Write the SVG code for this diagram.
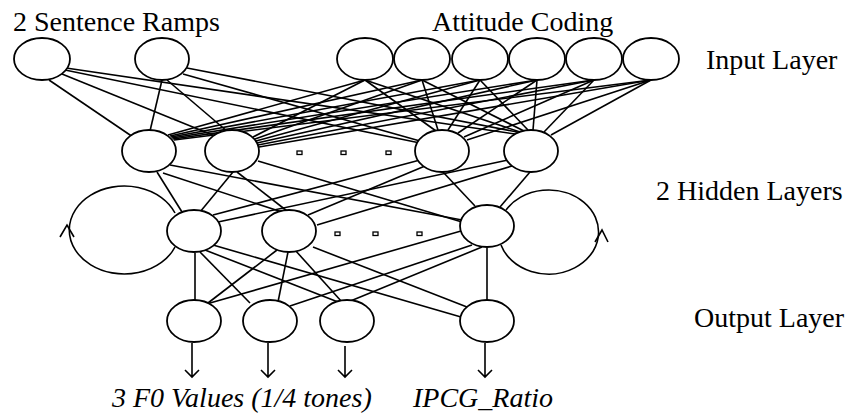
<svg xmlns="http://www.w3.org/2000/svg" width="848" height="417" viewBox="0 0 848 417">
<defs>
<style>
.n{fill:#fff;stroke:#000;stroke-width:1.8}
.c line,.c path{stroke:#000;stroke-width:1.6;fill:none}
.t{font-family:"Liberation Serif","Times New Roman",serif;font-size:28px;fill:#000}
.i{font-style:italic}
.d{fill:#fff;stroke:#000;stroke-width:1.3}
</style>
</defs>
<rect width="848" height="417" fill="#fff"/>
<g id="connectors" class="c">
<line x1="49" y1="80" x2="133" y2="137"/>
<line x1="62" y1="74" x2="215" y2="136"/>
<line x1="65" y1="70" x2="420" y2="143"/>
<line x1="66" y1="68" x2="515" y2="134"/>
<line x1="162" y1="80" x2="150" y2="131"/>
<line x1="167" y1="80" x2="228" y2="132"/>
<line x1="183" y1="74" x2="420" y2="141"/>
<line x1="187" y1="68" x2="517" y2="132"/>
<line x1="365" y1="80" x2="168" y2="135"/>
<line x1="365" y1="80" x2="253" y2="137"/>
<line x1="365" y1="80" x2="436" y2="131"/>
<line x1="365" y1="80" x2="520" y2="132"/>
<line x1="422" y1="80" x2="170" y2="136"/>
<line x1="422" y1="80" x2="255" y2="139"/>
<line x1="422" y1="80" x2="438" y2="130"/>
<line x1="422" y1="80" x2="524" y2="131"/>
<line x1="480" y1="80" x2="171" y2="137"/>
<line x1="480" y1="80" x2="256" y2="141"/>
<line x1="480" y1="80" x2="448" y2="130"/>
<line x1="480" y1="80" x2="528" y2="130"/>
<line x1="537" y1="80" x2="172" y2="138"/>
<line x1="537" y1="80" x2="257" y2="143"/>
<line x1="537" y1="80" x2="458" y2="133"/>
<line x1="537" y1="80" x2="533" y2="130"/>
<line x1="594" y1="80" x2="173" y2="139"/>
<line x1="594" y1="80" x2="258" y2="145"/>
<line x1="594" y1="80" x2="464" y2="137"/>
<line x1="594" y1="80" x2="544" y2="132"/>
<line x1="651" y1="80" x2="174" y2="140"/>
<line x1="651" y1="80" x2="259" y2="147"/>
<line x1="651" y1="80" x2="467" y2="140"/>
<line x1="651" y1="80" x2="551" y2="135"/>
<line x1="157" y1="172" x2="182" y2="212"/>
<line x1="163" y1="173" x2="282" y2="212"/>
<line x1="170" y1="165" x2="462" y2="220"/>
<line x1="233" y1="172" x2="200" y2="212"/>
<line x1="237" y1="172" x2="287" y2="211"/>
<line x1="258" y1="161" x2="462" y2="222"/>
<line x1="420" y1="160" x2="213" y2="215"/>
<line x1="425" y1="166" x2="308" y2="215"/>
<line x1="443" y1="172" x2="475" y2="206"/>
<line x1="508" y1="160" x2="218" y2="222"/>
<line x1="512" y1="166" x2="317" y2="225"/>
<line x1="530" y1="172" x2="500" y2="207"/>
<line x1="195" y1="253" x2="195" y2="300"/>
<line x1="200" y1="252" x2="250" y2="303"/>
<line x1="205" y1="250" x2="338" y2="302"/>
<line x1="213" y1="245" x2="461" y2="317"/>
<line x1="277" y1="250" x2="208" y2="303"/>
<line x1="288" y1="252" x2="278" y2="302"/>
<line x1="295" y1="250" x2="342" y2="302"/>
<line x1="313" y1="247" x2="467" y2="307"/>
<line x1="461" y1="231" x2="210" y2="303"/>
<line x1="472" y1="245" x2="290" y2="306"/>
<line x1="482" y1="247" x2="348" y2="302"/>
<line x1="487" y1="248" x2="487" y2="300"/>
<path d="M175,213 A55,44 0 1 0 175,247"/>
<path d="M60,237 L67,225 L74,237"/>
<path d="M506,210 A50,42 0 1 1 501,245"/>
<path d="M595,242 L602,230 L608,242"/>
<path d="M192,343 V377 M185,370 L192,377 L199,370"/>
<path d="M268,343 V377 M261,370 L268,377 L275,370"/>
<path d="M345,346 V377 M338,370 L345,377 L352,370"/>
<path d="M485,343 V377 M478,370 L485,377 L492,370"/>
</g>
<g id="input-layer">
<ellipse id="in-ramp1" class="n" cx="42" cy="59" rx="28" ry="21"/>
<ellipse id="in-ramp2" class="n" cx="162" cy="59" rx="27" ry="21"/>
<ellipse id="in-att1" class="n" cx="365" cy="59" rx="28" ry="21"/>
<ellipse id="in-att2" class="n" cx="422" cy="59" rx="28" ry="21"/>
<ellipse id="in-att3" class="n" cx="480" cy="59" rx="28" ry="21"/>
<ellipse id="in-att4" class="n" cx="537" cy="59" rx="28" ry="21"/>
<ellipse id="in-att5" class="n" cx="594" cy="59" rx="28" ry="21"/>
<ellipse id="in-att6" class="n" cx="651" cy="59" rx="28" ry="21"/>
</g>
<g id="hidden-layer-1">
<ellipse id="h1-1" class="n" cx="149" cy="151" rx="27" ry="21"/>
<ellipse id="h1-2" class="n" cx="232" cy="151" rx="27" ry="21"/>
<ellipse id="h1-3" class="n" cx="442" cy="151" rx="27" ry="21"/>
<ellipse id="h1-4" class="n" cx="531" cy="151" rx="27" ry="21"/>
<rect class="d" x="297" y="151" width="5" height="3.5"/>
<rect class="d" x="341" y="151" width="5" height="3.5"/>
<rect class="d" x="386" y="151" width="5" height="3.5"/>
</g>
<g id="hidden-layer-2">
<ellipse id="h2-1" class="n" cx="194" cy="231" rx="27" ry="21"/>
<ellipse id="h2-2" class="n" cx="289" cy="231" rx="27" ry="21"/>
<ellipse id="h2-3" class="n" cx="487" cy="226" rx="27" ry="21"/>
<rect class="d" x="335" y="232" width="5" height="3.5"/>
<rect class="d" x="373" y="232" width="5" height="3.5"/>
<rect class="d" x="417" y="232" width="5" height="3.5"/>
</g>
<g id="output-layer">
<ellipse id="out-1" class="n" cx="194" cy="321" rx="27" ry="21"/>
<ellipse id="out-2" class="n" cx="270" cy="321" rx="27" ry="21"/>
<ellipse id="out-3" class="n" cx="347" cy="321" rx="27" ry="21"/>
<ellipse id="out-4" class="n" cx="487" cy="321" rx="27" ry="21"/>
</g>
<g id="labels">
<text class="t" x="13" y="31">2 Sentence Ramps</text>
<text class="t" x="432" y="31">Attitude Coding</text>
<text class="t" x="706" y="69">Input Layer</text>
<text class="t" x="656" y="200">2 Hidden Layers</text>
<text class="t" x="694" y="327">Output Layer</text>
<text class="t i" x="112" y="407">3 F0 Values (1/4 tones)</text>
<text class="t i" x="413" y="407">IPCG_Ratio</text>
</g>
</svg>
